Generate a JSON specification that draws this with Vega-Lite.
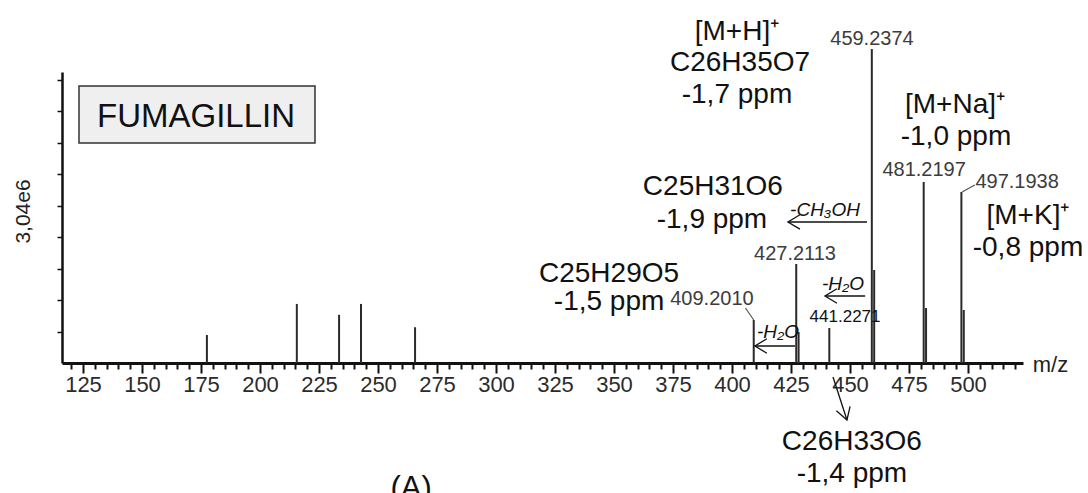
{
  "$schema": "https://vega.github.io/schema/vega-lite/v6.json",
  "width": 961,
  "height": 291,
  "autosize": {"type": "none"},
  "padding": {"left": 62, "top": 72, "right": 65, "bottom": 130},
  "background": "white",
  "config": {
    "font": "Liberation Sans",
    "view": {"stroke": null},
    "axis": {"grid": false}
  },
  "datasets": {
    "peaks": [
      {"mz": 177.5, "intensity": 540000},
      {"mz": 215.6, "intensity": 1140000},
      {"mz": 233.5, "intensity": 930000},
      {"mz": 242.8, "intensity": 1140000},
      {"mz": 265.7, "intensity": 690000},
      {"mz": 409.201, "intensity": 830000},
      {"mz": 427.2113, "intensity": 1911000},
      {"mz": 428.21, "intensity": 598000},
      {"mz": 441.2271, "intensity": 676000},
      {"mz": 459.2374, "intensity": 6061000},
      {"mz": 460.24, "intensity": 1795000},
      {"mz": 481.2197, "intensity": 3494000},
      {"mz": 482.22, "intensity": 1062000},
      {"mz": 497.1938, "intensity": 3301000},
      {"mz": 498.2, "intensity": 1023000}
    ],
    "big": [
      {"mz": 402.1, "intensity": 6390000, "text": "[M+H]⁺"},
      {"mz": 403.4, "intensity": 5790000, "text": "C26H35O7"},
      {"mz": 402.1, "intensity": 5170000, "text": "-1,7 ppm"},
      {"mz": 494.5, "intensity": 4980000, "text": "[M+Na]⁺"},
      {"mz": 494.9, "intensity": 4360000, "text": "-1,0 ppm"},
      {"mz": 391.9, "intensity": 3400000, "text": "C25H31O6"},
      {"mz": 391.5, "intensity": 2760000, "text": "-1,9 ppm"},
      {"mz": 525.4, "intensity": 2840000, "text": "[M+K]⁺"},
      {"mz": 525.4, "intensity": 2220000, "text": "-0,8 ppm"},
      {"mz": 347.9, "intensity": 1720000, "text": "C25H29O5"},
      {"mz": 347.9, "intensity": 1180000, "text": "-1,5 ppm"},
      {"mz": 450.8, "intensity": -1520000, "text": "C26H33O6"},
      {"mz": 450.8, "intensity": -2140000, "text": "-1,4 ppm"}
    ],
    "peaklabels": [
      {"mz": 459.3, "intensity": 6250000, "text": "459.2374"},
      {"mz": 481.4, "intensity": 3720000, "text": "481.2197"},
      {"mz": 520.8, "intensity": 3490000, "text": "497.1938"},
      {"mz": 426.7, "intensity": 2100000, "text": "427.2113"},
      {"mz": 391.5, "intensity": 1230000, "text": "409.2010"}
    ],
    "smalllabels": [
      {"mz": 447.9, "intensity": 890000, "text": "441.2271"}
    ],
    "losses": [
      {"mz": 439.4, "intensity": 2950000, "text": "-CH₃OH"},
      {"mz": 447.0, "intensity": 1520000, "text": "-H₂O"},
      {"mz": 419.5, "intensity": 600000, "text": "-H₂O"}
    ],
    "arrows": [
      {"mz": 457.2, "intensity": 2722000, "mz2": 423.7, "intensity2": 2722000},
      {"mz": 456.4, "intensity": 1293000, "mz2": 439.4, "intensity2": 1293000},
      {"mz": 426.7, "intensity": 328000, "mz2": 409.7, "intensity2": 328000},
      {"mz": 442.8, "intensity": -270000, "mz2": 448.7, "intensity2": -1100000}
    ],
    "headsleft": [
      {"mz": 423.7, "intensity": 2722000},
      {"mz": 439.4, "intensity": 1293000},
      {"mz": 409.7, "intensity": 328000}
    ],
    "headsdown": [
      {"mz": 448.7, "intensity": -1100000}
    ],
    "connectors": [
      {"mz": 405.7, "intensity": 1062000, "mz2": 409.201, "intensity2": 830000},
      {"mz": 497.5, "intensity": 3301000, "mz2": 502.9, "intensity2": 3436000}
    ],
    "box": [
      {"mz": 123.3, "mz2": 223.3, "intensity": 4246000, "intensity2": 5347000}
    ],
    "title": [
      {"mz": 172.9, "intensity": 4750000, "text": "FUMAGILLIN"}
    ],
    "panel": [
      {"mz": 264.0, "intensity": -2143000, "text": "(A)"}
    ]
  },
  "encoding": {
    "x": {
      "field": "mz", "type": "quantitative",
      "scale": {"domain": [116.1, 523.3], "nice": false, "zero": false},
      "axis": {
        "title": "m/z",
        "titleX": 988, "titleY": 1,
        "titleAlign": "center", "titleBaseline": "middle",
        "titleFontSize": 22, "titleFontWeight": "normal", "titleColor": "#222222",
        "values": [120,125,130,135,140,145,150,155,160,165,170,175,180,185,190,195,200,205,210,215,220,225,230,235,240,245,250,255,260,265,270,275,280,285,290,295,300,305,310,315,320,325,330,335,340,345,350,355,360,365,370,375,380,385,390,395,400,405,410,415,420,425,430,435,440,445,450,455,460,465,470,475,480,485,490,495,500,505,510,515,520],
        "labelExpr": "datum.value % 25 === 0 ? datum.label : ''",
        "labelOverlap": false,
        "labelFlush": false,
        "labelFontSize": 22,
        "labelColor": "#2b2b2b",
        "labelPadding": 1,
        "tickSize": {"condition": {"test": "datum.value % 25 === 0", "value": 10}, "value": 6},
        "tickColor": "#111111",
        "tickWidth": 2,
        "domainColor": "#111111",
        "domainWidth": 3
      }
    },
    "y": {
      "field": "intensity", "type": "quantitative",
      "scale": {"domain": [0, 5617000], "nice": false, "zero": false},
      "axis": {
        "title": "3,04e6",
        "titleX": -39, "titleY": 139,
        "titleAngle": -90,
        "titleAlign": "center", "titleBaseline": "middle",
        "titleFontSize": 21, "titleFontWeight": "normal", "titleColor": "#222222",
        "values": [608000, 1216000, 1824000, 2432000, 3040000, 3648000, 4256000, 4864000, 5472000],
        "labels": false,
        "tickSize": 5,
        "tickWidth": 1.5,
        "tickColor": "#111111",
        "domainColor": "#111111",
        "domainWidth": 2.5
      }
    }
  },
  "layer": [
    {
      "data": {"name": "peaks"},
      "mark": {"type": "rule", "color": "#2a2a2a", "strokeWidth": 2},
      "encoding": {
        "y2": {"datum": 0}
      }
    },
    {
      "data": {"name": "box"},
      "mark": {"type": "rect", "fill": "#efefef", "stroke": "#333333", "strokeWidth": 1.5},
      "encoding": {
        "x2": {"field": "mz2"},
        "y2": {"field": "intensity2"}
      }
    },
    {
      "data": {"name": "title"},
      "mark": {"type": "text", "fontSize": 33, "color": "#111111", "align": "center", "baseline": "middle"},
      "encoding": {
        "text": {"field": "text"}
      }
    },
    {
      "data": {"name": "big"},
      "mark": {"type": "text", "fontSize": 28, "color": "#111111", "align": "center", "baseline": "middle"},
      "encoding": {
        "text": {"field": "text"}
      }
    },
    {
      "data": {"name": "peaklabels"},
      "mark": {"type": "text", "fontSize": 20, "color": "#3c3c3c", "align": "center", "baseline": "middle"},
      "encoding": {
        "text": {"field": "text"}
      }
    },
    {
      "data": {"name": "smalllabels"},
      "mark": {"type": "text", "fontSize": 17, "color": "#111111", "align": "center", "baseline": "middle"},
      "encoding": {
        "text": {"field": "text"}
      }
    },
    {
      "data": {"name": "losses"},
      "mark": {"type": "text", "fontSize": 19, "fontStyle": "italic", "color": "#111111", "align": "center", "baseline": "middle"},
      "encoding": {
        "text": {"field": "text"}
      }
    },
    {
      "data": {"name": "arrows"},
      "mark": {"type": "rule", "color": "#111111", "strokeWidth": 1.3},
      "encoding": {
        "x2": {"field": "mz2"},
        "y2": {"field": "intensity2"}
      }
    },
    {
      "data": {"name": "headsleft"},
      "mark": {"type": "point", "shape": "M1,-0.6L0,0L1,0.6", "size": 576, "filled": false, "stroke": "#111111", "strokeWidth": 1.3, "opacity": 1},
      "encoding": {}
    },
    {
      "data": {"name": "headsdown"},
      "mark": {"type": "point", "shape": "M1,-0.6L0,0L1,0.6", "size": 576, "angle": 252, "filled": false, "stroke": "#111111", "strokeWidth": 1.3, "opacity": 1},
      "encoding": {}
    },
    {
      "data": {"name": "connectors"},
      "mark": {"type": "rule", "color": "#555555", "strokeWidth": 1.2},
      "encoding": {
        "x2": {"field": "mz2"},
        "y2": {"field": "intensity2"}
      }
    },
    {
      "data": {"name": "panel"},
      "mark": {"type": "text", "fontSize": 31, "color": "#111111", "align": "center", "baseline": "top"},
      "encoding": {
        "text": {"field": "text"}
      }
    }
  ]
}
